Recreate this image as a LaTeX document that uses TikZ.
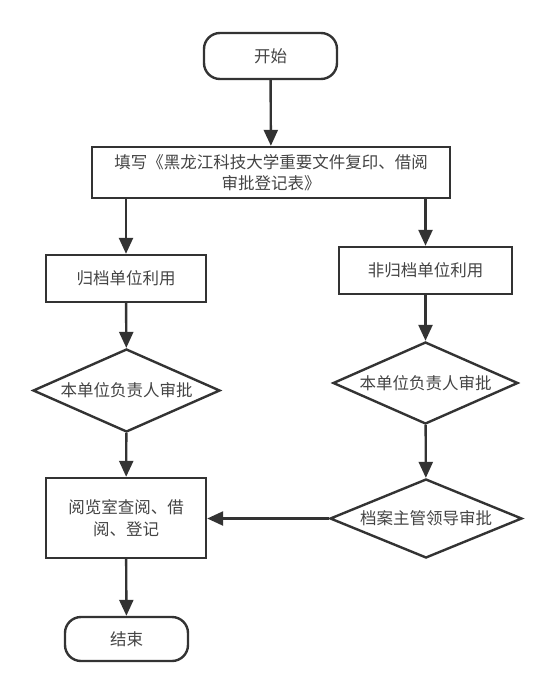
\documentclass[tikz,border=0pt]{standalone}
\usepackage{fontspec}
\setmainfont{Noto Sans CJK SC}
\usetikzlibrary{shapes.geometric,arrows.meta}
\definecolor{ln}{HTML}{333333}
\definecolor{tx}{HTML}{444444}
\tikzset{
  base/.style={draw=ln,line width=2.4pt,text=tx,font=\fontsize{16.5}{21.5}\selectfont,align=center,inner sep=0pt},
  term/.style={base,rounded corners=16pt},
  proc/.style={base},
  dec/.style={base,shape=diamond,aspect=2.25},
  arr/.style={draw=ln,line width=2.4pt,-{Triangle[length=16pt,width=14pt]}}
}
\begin{document}
\begin{tikzpicture}[x=1pt,y=-1pt]
\useasboundingbox[fill=white] (0,0) rectangle (553,694);
\node[term,minimum width=133pt,minimum height=46pt] (start) at (270.5,56) {开始};
\node[proc,minimum width=358pt,minimum height=51pt] (fill) at (271,172.5) {填写《黑龙江科技大学重要文件复印、借阅\\审批登记表》};
\node[proc,minimum width=160pt,minimum height=47pt] (lb) at (126,278.5) {归档单位利用};
\node[proc,minimum width=173pt,minimum height=47pt] (rb) at (425.5,270.5) {非归档单位利用};
\node[dec,minimum width=187pt,minimum height=83pt] (ld) at (126.5,390.5) {本单位负责人审批};
\node[dec,minimum width=185pt,minimum height=82pt] (rd1) at (425.5,383) {本单位负责人审批};
\node[dec,minimum width=192pt,minimum height=79pt] (rd2) at (426,518.5) {档案主管领导审批};
\node[proc,minimum width=160pt,minimum height=80pt] (read) at (126,518) {阅览室查阅、借\\阅、登记};
\node[term,minimum width=123pt,minimum height=44pt] (end) at (126.5,639) {结束};
\draw[arr] (start) -- (fill);
\draw[arr] (fill.south -| lb.north) -- (lb.north);
\draw[arr] (fill.south -| rb.north) -- (rb.north);
\draw[arr] (lb) -- (ld);
\draw[arr] (rb) -- (rd1);
\draw[arr] (ld) -- (read);
\draw[arr] (rd1) -- (rd2);
\draw[arr] (rd2.west) -- (read.east |- rd2.west);
\draw[arr] (read) -- (end);
\end{tikzpicture}
\end{document}
